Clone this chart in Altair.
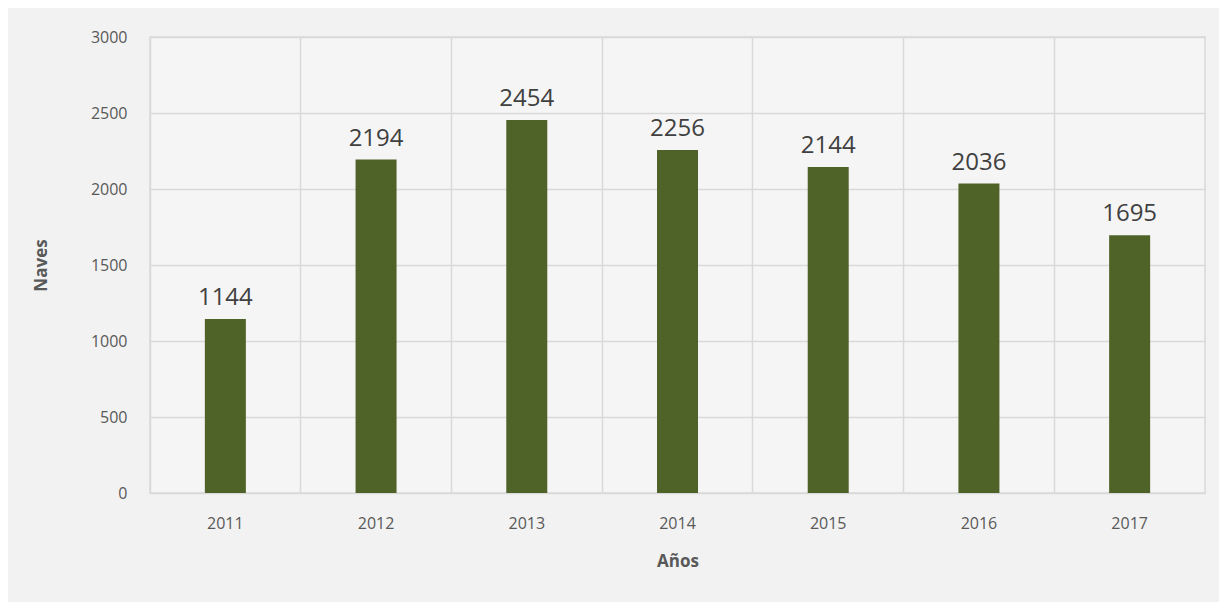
import altair as alt
import pandas as pd

years = ["2011", "2012", "2013", "2014", "2015", "2016", "2017"]
naves = [1144, 2194, 2454, 2256, 2144, 2036, 1695]
y_ticks = [0, 500, 1000, 1500, 2000, 2500, 3000]

df = pd.DataFrame({"year": years, "naves": naves})

FONT = "Open Sans"
x_scale = alt.Scale(paddingInner=0, paddingOuter=0)

bars = alt.Chart(df).mark_bar(color="#4f6228", width={"band": 0.272}).encode(
    x=alt.X("year:N", scale=x_scale, sort=years,
            axis=alt.Axis(title="Años", grid=False, ticks=False, domain=False,
                          labelAngle=0, labelPadding=22, labelFontSize=16,
                          labelColor="#595959", labelFont=FONT,
                          titleFontSize=17, titleFontWeight="bold",
                          titleColor="#595959", titleFont=FONT, titlePadding=22)),
    y=alt.Y("naves:Q", scale=alt.Scale(domain=[0, 3000]),
            axis=alt.Axis(title="Naves", values=y_ticks, format="d", grid=True,
                          gridColor="#d9d9d9", gridWidth=1.5, ticks=False,
                          domain=False, labelPadding=23, labelFontSize=16,
                          labelColor="#595959", labelFont=FONT,
                          titleFontSize=17, titleFontWeight="bold",
                          titleColor="#595959", titleFont=FONT,
                          titleX=-100, titleY=228)),
)

labels = alt.Chart(df).mark_text(fontSize=24, color="#404040", font=FONT,
                                 baseline="alphabetic", dy=-14).encode(
    x=alt.X("year:N", scale=x_scale, sort=years,
            axis=alt.Axis(orient="top", title=None, labels=False, ticks=False,
                          domain=False, grid=True, bandPosition=0,
                          gridColor="#d9d9d9", gridWidth=1.5)),
    y=alt.Y("naves:Q"),
    text=alt.Text("naves:Q"),
)

chart = alt.layer(bars, labels).resolve_axis(x="independent").properties(
    width=1055, height=456,
    autosize=alt.AutoSizeParams(type="none"),
    padding={"left": 142, "top": 29, "right": 14, "bottom": 110},
    background="#f2f2f2",
).configure_view(fill="#f5f5f5", stroke="#d9d9d9", strokeWidth=1.5)

chart.save("out.html", embed_options={"renderer": "svg", "actions": False})
